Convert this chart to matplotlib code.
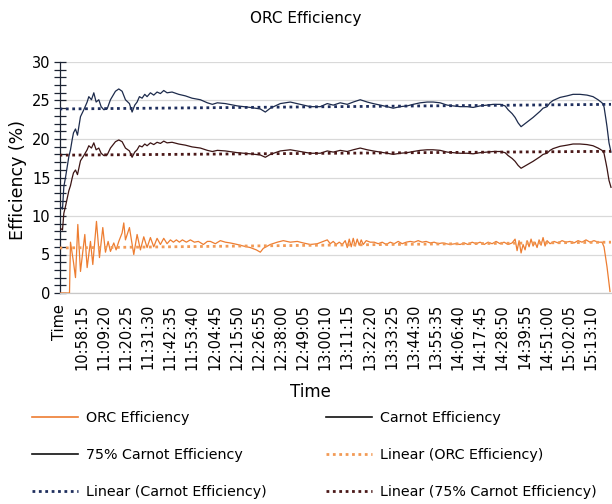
import numpy as np
import matplotlib.pyplot as plt
from matplotlib.lines import Line2D
from matplotlib.ticker import MultipleLocator

# category labels of the time axis (one label every 133 rows)
time_labels = ["Time", "10:58:15", "11:09:20", "11:20:25", "11:31:30", "11:42:35",
               "11:53:40", "12:04:45", "12:15:50", "12:26:55", "12:38:00", "12:49:05",
               "13:00:10", "13:11:15", "13:22:20", "13:33:25", "13:44:30", "13:55:35",
               "14:06:40", "14:17:45", "14:28:50", "14:39:55", "14:51:00", "15:02:05",
               "15:13:10"]
label_step = 133

# Carnot efficiency (%), row index -> value
carnot_row = [6, 18, 26, 36, 56, 66, 76, 84, 96, 108, 126, 146, 166, 176, 192, 206, 220,
              236, 250, 266, 286, 306, 336, 356, 376, 396, 420, 436, 452, 466, 480, 496,
              512, 526, 546, 566, 586, 606, 626, 646, 676, 716, 756, 796, 846, 888, 918,
              948, 996, 1068, 1146, 1206, 1236, 1266, 1326, 1386, 1446, 1506, 1566, 1608,
              1644, 1686, 1728, 1764, 1806, 1848, 1884, 1926, 1968, 2004, 2046, 2088,
              2124, 2166, 2208, 2244, 2286, 2328, 2364, 2406, 2448, 2484, 2526, 2568,
              2604, 2646, 2676, 2694, 2718, 2736, 2754, 2772, 2790, 2808, 2844, 2886,
              2904, 2928, 2946, 2964, 3006, 3048, 3084, 3126, 3168, 3204, 3234, 3258,
              3270, 3282, 3288, 3300, 3312]
carnot_val = [11.2, 10.9, 13.8, 15.0, 17.7, 18.6, 19.9, 20.8, 21.3, 20.5, 22.9, 23.8, 24.8,
              25.5, 25.1, 26.0, 24.8, 25.1, 24.2, 23.8, 23.9, 25.1, 26.2, 26.5, 26.2, 25.1,
              24.6, 23.5, 24.4, 24.8, 25.5, 25.3, 25.8, 25.5, 26.0, 25.7, 26.1, 25.9, 26.3,
              26.0, 26.1, 25.8, 25.6, 25.3, 25.1, 24.7, 24.5, 24.7, 24.6, 24.3, 24.1, 23.9,
              23.5, 24.0, 24.6, 24.8, 24.5, 24.2, 24.2, 24.6, 24.4, 24.7, 24.5, 24.8, 25.1,
              24.8, 24.6, 24.4, 24.2, 24.0, 24.2, 24.3, 24.5, 24.7, 24.8, 24.8, 24.7, 24.4,
              24.3, 24.2, 24.2, 24.1, 24.3, 24.4, 24.5, 24.5, 24.3, 23.8, 23.3, 22.8, 22.1,
              21.6, 21.9, 22.2, 22.8, 23.6, 24.0, 24.2, 24.7, 25.0, 25.4, 25.6, 25.8, 25.8,
              25.7, 25.5, 25.1, 24.7, 24.2, 22.5, 21.6, 19.5, 18.3]

# ORC efficiency (%), row index -> value
orc_row = [0, 60, 66, 84, 96, 110, 126, 152, 166, 186, 200, 222, 240, 260, 276, 292, 306,
           326, 340, 356, 376, 386, 396, 420, 446, 466, 486, 506, 526, 546, 566, 586, 606,
           626, 646, 666, 684, 702, 720, 738, 762, 786, 810, 834, 864, 888, 906, 936, 966,
           996, 1026, 1068, 1104, 1146, 1182, 1206, 1224, 1266, 1308, 1344, 1386, 1428,
           1464, 1506, 1548, 1584, 1608, 1626, 1644, 1662, 1680, 1698, 1716, 1728, 1740,
           1752, 1764, 1776, 1788, 1800, 1812, 1824, 1842, 1866, 1890, 1914, 1938, 1962,
           1986, 2010, 2034, 2058, 2082, 2106, 2130, 2154, 2178, 2202, 2226, 2250, 2274,
           2298, 2322, 2346, 2376, 2406, 2430, 2454, 2478, 2502, 2526, 2550, 2574, 2598,
           2622, 2646, 2670, 2694, 2718, 2736, 2748, 2760, 2772, 2784, 2796, 2808, 2820,
           2832, 2844, 2856, 2868, 2880, 2892, 2904, 2916, 2928, 2946, 2970, 2994, 3018,
           3042, 3066, 3090, 3114, 3138, 3162, 3186, 3210, 3234, 3258, 3270, 3288, 3306]
orc_val = [0.0, 0.0, 6.6, 4.0, 2.0, 8.9, 2.8, 7.6, 3.3, 6.7, 3.7, 9.3, 4.6, 8.5, 5.3, 6.7,
           5.4, 6.5, 5.6, 6.7, 7.8, 9.1, 6.9, 8.5, 5.0, 7.6, 5.6, 7.3, 5.9, 7.2, 6.0, 7.1,
           6.3, 7.1, 6.4, 6.9, 6.6, 6.9, 6.6, 6.9, 6.6, 6.9, 6.6, 6.7, 6.3, 6.7, 6.7, 6.4,
           6.8, 6.6, 6.5, 6.3, 6.1, 5.9, 5.6, 5.3, 5.8, 6.3, 6.6, 6.8, 6.6, 6.7, 6.5, 6.3,
           6.4, 6.7, 6.9, 6.4, 6.7, 6.3, 6.6, 6.3, 6.8, 5.9, 7.0, 6.0, 7.1, 6.1, 7.0, 6.2,
           6.9, 6.3, 6.8, 6.6, 6.6, 6.4, 6.6, 6.3, 6.6, 6.4, 6.7, 6.4, 6.6, 6.7, 6.6, 6.8,
           6.6, 6.7, 6.5, 6.6, 6.4, 6.5, 6.4, 6.3, 6.4, 6.3, 6.5, 6.3, 6.6, 6.4, 6.6, 6.3,
           6.6, 6.4, 6.7, 6.4, 6.6, 6.3, 6.5, 7.0, 5.5, 6.8, 5.2, 6.3, 5.6, 6.8, 6.0, 7.0,
           6.1, 6.6, 5.9, 6.9, 6.2, 7.2, 6.1, 6.8, 6.4, 6.7, 6.5, 6.8, 6.6, 6.7, 6.5, 6.8,
           6.6, 6.9, 6.6, 6.8, 6.6, 6.6, 6.0, 3.4, 0.2]

# linear trendlines (start / end value over the data range)
trend_rows = [0, 3312]
orc_trend = [5.85, 6.6]
carnot_trend = [23.9, 24.5]
c75_trend = [17.9, 18.4]

carnot_row = np.array(carnot_row)
carnot_val = np.array(carnot_val)
c75_val = 0.75 * carnot_val

c_orc = "#ED7D31"
c_carnot = "#1d2b4c"
c_75 = "#3b1414"
c_orc_tr = "#f29a55"
c_carnot_tr = "#1f2f5e"
c_75_tr = "#4a1818"

plt.rcParams['font.family'] = ['DejaVu Sans']

fig = plt.figure(figsize=(6.12, 5.04), dpi=100)
ax = fig.add_axes([59.5 / 612, 1 - 293 / 504, 1 - 59.5 / 612, (293 - 62) / 504])

ax.plot(orc_row, orc_val, color=c_orc, lw=0.9, zorder=3)
ax.plot(carnot_row, carnot_val, color=c_carnot, lw=0.9, zorder=3)
ax.plot(carnot_row, c75_val, color=c_75, lw=0.9, zorder=3)

dot = (0, (1, 1.3))
ax.plot(trend_rows, orc_trend, color=c_orc_tr, lw=2.0, ls=dot, zorder=4)
ax.plot(trend_rows, carnot_trend, color=c_carnot_tr, lw=2.0, ls=dot, zorder=4)
ax.plot(trend_rows, c75_trend, color=c_75_tr, lw=2.0, ls=dot, zorder=4)

ax.set_xlim(0, 3318)
ax.set_ylim(0, 30)
ax.yaxis.set_major_locator(MultipleLocator(5))
ax.yaxis.set_minor_locator(MultipleLocator(1))
ax.grid(axis='y', which='major', color='#d9d9d9', lw=0.9)
ax.set_axisbelow(True)

ax.set_xticks(np.arange(len(time_labels)) * label_step)
ax.set_xticklabels(time_labels, rotation=90, fontsize=10.5)
ax.tick_params(axis='x', length=0, pad=8)
ax.tick_params(axis='y', which='both', direction='inout', length=9, width=0.9,
               color='#1d2433', labelsize=10.5, pad=2)

for s in ['top', 'right']:
    ax.spines[s].set_visible(False)
ax.spines['left'].set_color('#1d2433')
ax.spines['left'].set_linewidth(0.9)
ax.spines['bottom'].set_color('#c8c8c8')
ax.spines['bottom'].set_linewidth(0.9)

fig.text(306 / 612, 1 - 18 / 504, "ORC Efficiency", ha='center', va='center', fontsize=11)
fig.text(18 / 612, 1 - 180 / 504, "Efficiency (%)", ha='center', va='center',
         rotation=90, fontsize=12.5)
fig.text(310 / 612, 1 - 392 / 504, "Time", ha='center', va='center', fontsize=12)

handles = [
    Line2D([], [], color=c_orc, lw=1.2),
    Line2D([], [], color='#111111', lw=1.2),
    Line2D([], [], color=c_carnot_tr, lw=2.0, ls=dot),
    Line2D([], [], color='#111111', lw=1.2),
    Line2D([], [], color=c_orc_tr, lw=2.0, ls=dot),
    Line2D([], [], color=c_75_tr, lw=2.0, ls=dot),
]
labels = ["ORC Efficiency", "75% Carnot Efficiency", "Linear (Carnot Efficiency)",
          "Carnot Efficiency", "Linear (ORC Efficiency)", "Linear (75% Carnot Efficiency)"]
fig.legend(handles, labels, ncol=2, loc='upper left', bbox_to_anchor=(19 / 612, 1 - 398 / 504),
           frameon=False, fontsize=10.3, handlelength=3.2, handletextpad=0.55,
           columnspacing=4.2, labelspacing=1.62)

fig.savefig("out.png", dpi=100)
